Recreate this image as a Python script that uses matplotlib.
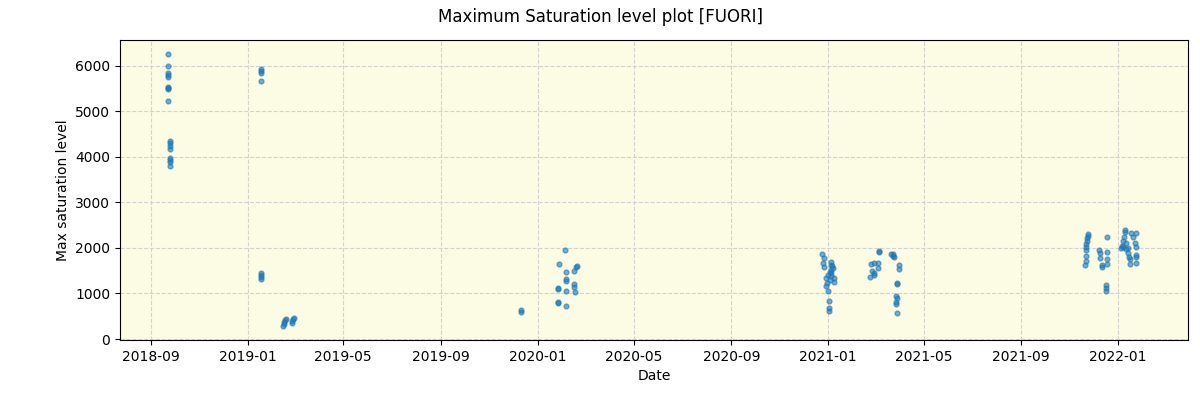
import numpy as np
import pandas as pd
import matplotlib
matplotlib.use("Agg")
import matplotlib.pyplot as plt
import matplotlib.dates as mdates

dates = [
    # 2018-09
    "2018-09-23", "2018-09-23", "2018-09-23", "2018-09-23", "2018-09-23", "2018-09-23",
    "2018-09-23", "2018-09-23", "2018-09-23",
    "2018-09-25", "2018-09-25", "2018-09-25", "2018-09-25",
    "2018-09-25", "2018-09-25", "2018-09-25", "2018-09-25",
    # 2019-01
    "2019-01-17", "2019-01-17", "2019-01-17", "2019-01-17", "2019-01-17",
    "2019-01-17", "2019-01-17", "2019-01-17",
    # 2019-02
    "2019-02-14", "2019-02-15", "2019-02-16", "2019-02-17", "2019-02-18",
    "2019-02-25", "2019-02-26", "2019-02-27", "2019-02-28",
    # 2019-12
    "2019-12-11", "2019-12-11",
    # 2020-01/02
    "2020-02-05", "2020-01-28", "2020-02-19", "2020-02-18", "2020-02-06", "2020-02-16",
    "2020-02-06", "2020-02-06", "2020-01-27", "2020-01-27", "2020-02-16", "2020-02-16",
    "2020-02-17", "2020-02-06", "2020-01-27", "2020-01-27", "2020-02-06",
    # 2020-12 / 2021-01
    "2020-12-24", "2020-12-26", "2020-12-25", "2020-12-27", "2021-01-05", "2021-01-05",
    "2021-01-04", "2020-12-31", "2020-12-29", "2020-12-30", "2020-12-29", "2021-01-08",
    "2021-01-08", "2021-01-01", "2021-01-02", "2021-01-02", "2021-01-02", "2021-01-05",
    "2021-01-03", "2021-01-07", "2021-01-06", "2021-01-04", "2021-01-03",
    # 2021-02/03
    "2021-03-06", "2021-03-06", "2021-02-24", "2021-02-27", "2021-03-05", "2021-03-05",
    "2021-02-25", "2021-02-27", "2021-02-23", "2021-02-28",
    # 2021-03
    "2021-03-21", "2021-03-24", "2021-03-23", "2021-03-25", "2021-03-31", "2021-03-31",
    "2021-03-29", "2021-03-29", "2021-03-27", "2021-03-29", "2021-03-27", "2021-03-27",
    "2021-03-29",
    # 2021-11
    "2021-11-24", "2021-11-24", "2021-11-23", "2021-11-23", "2021-11-22", "2021-11-22",
    "2021-11-21", "2021-11-21", "2021-11-21", "2021-11-20",
    # 2021-12
    "2021-12-18", "2021-12-08", "2021-12-09", "2021-12-09", "2021-12-18", "2021-12-18",
    "2021-12-18", "2021-12-12", "2021-12-12", "2021-12-17", "2021-12-17", "2021-12-17",
    # 2022-01
    "2022-01-10", "2022-01-10", "2022-01-08", "2022-01-07", "2022-01-07", "2022-01-11",
    "2022-01-11", "2022-01-13", "2022-01-13", "2022-01-17", "2022-01-23", "2022-01-20",
    "2022-01-22", "2022-01-24", "2022-01-15", "2022-01-16", "2022-01-16", "2022-01-24",
    "2022-01-24", "2022-01-24", "2022-01-05", "2022-01-06",
]
levels = [
    6257, 6000, 5830, 5795, 5750, 5510, 5490, 5520, 5225,
    4350, 4300, 4240, 4170, 3970, 3920, 3875, 3795,
    5934, 5890, 5846, 5663, 1444, 1400, 1356, 1312,
    290, 340, 380, 420, 450, 360, 400, 430, 460,
    637, 593,
    1956, 1655, 1604, 1580, 1466, 1487, 1318, 1281, 1128, 1092, 1201, 1149,
    1040, 1047, 820, 783, 717,
    1868, 1773, 1677, 1575, 1700, 1626, 1516, 1407, 1333, 1224, 1165, 1333,
    1260, 1047, 835, 690, 615, 1443, 1480, 1550, 1600, 1380, 1290,
    1927, 1912, 1641, 1660, 1663, 1553, 1502, 1407, 1370, 1450,
    1868, 1868, 1824, 1795, 1626, 1531, 1238, 1201, 952, 893, 820, 769, 562,
    2308, 2264, 2220, 2146, 2088, 2029, 1956, 1824, 1721, 1626,
    2235, 1956, 1897, 1787, 1919, 1751, 1648, 1626, 1575, 1187, 1114, 1055,
    2396, 2352, 2249, 2161, 2015, 2110, 1970, 2000, 1897, 2323, 2337, 2249,
    2103, 2029, 1809, 1765, 1648, 1846, 1802, 1663, 2000, 2050,
]

x = pd.to_datetime(dates)
y = np.array(levels)

fig, ax = plt.subplots(figsize=(12, 4), dpi=100)
fig.subplots_adjust(left=0.1, right=0.99, top=0.9, bottom=0.15)
fig.suptitle("Maximum Saturation level plot [FUORI]")

ax.set_facecolor("#fcfbe3")
ax.scatter(x, y, s=12, color="#1f77b4", alpha=0.6)
ax.grid(True, linestyle="--", color="lightgray")
ax.set_axisbelow(True)

ax.xaxis.set_major_locator(mdates.MonthLocator(bymonth=[1, 5, 9]))
ax.xaxis.set_major_formatter(mdates.DateFormatter("%Y-%m"))
ax.set_xlim(pd.Timestamp("2018-07-24"), pd.Timestamp("2022-03-30"))
ax.set_ylim(-20, 6560)

ax.set_xlabel("Date")
ax.set_ylabel("Max saturation level")

fig.savefig("out.png")
